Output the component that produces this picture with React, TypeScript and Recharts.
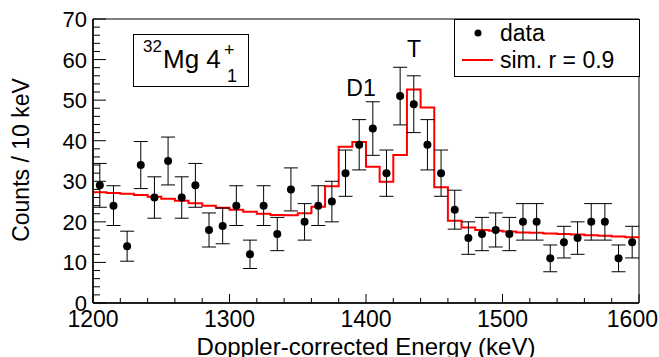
import React from "react";
import { ComposedChart, Line, Scatter, ErrorBar, XAxis, YAxis, ReferenceArea, Legend } from "recharts";

const FONT = "'Liberation Sans', Arial, Helvetica, sans-serif";

// data: counts per 10 keV bin (bin centres)
const binCenters = [
  1205, 1215, 1225, 1235, 1245, 1255, 1265, 1275, 1285, 1295,
  1305, 1315, 1325, 1335, 1345, 1355, 1365, 1375, 1385, 1395,
  1405, 1415, 1425, 1435, 1445, 1455, 1465, 1475, 1485, 1495,
  1505, 1515, 1525, 1535, 1545, 1555, 1565, 1575, 1585, 1595,
];
const counts = [
  29, 24, 14, 34, 26, 35, 26, 29, 18, 19,
  24, 12, 24, 17, 28, 20, 24, 25, 32, 39,
  43, 32, 51, 49, 39, 32, 23, 16, 17, 18,
  17, 20, 20, 11, 15, 16, 20, 20, 11, 15,
];
const countErrors = [
  5.4, 4.9, 3.7, 5.8, 5.1, 5.9, 5.1, 5.4, 4.2, 4.4,
  4.9, 3.5, 4.9, 4.1, 5.3, 4.5, 4.9, 5.0, 5.7, 6.2,
  6.6, 5.7, 7.1, 7.0, 6.2, 5.7, 4.8, 4.0, 4.1, 4.2,
  4.1, 4.5, 4.5, 3.3, 3.9, 4.0, 4.5, 4.5, 3.3, 3.9,
];

// simulation histogram (value from each lower bin edge, last edge closes it)
const simEdges = [
  1200, 1210, 1220, 1230, 1240, 1250, 1260, 1270, 1280, 1290,
  1300, 1310, 1320, 1330, 1340, 1350, 1360, 1370, 1380, 1390,
  1400, 1410, 1420, 1430, 1440, 1450, 1460, 1470, 1480, 1490,
  1500, 1510, 1520, 1530, 1540, 1550, 1560, 1570, 1580, 1590, 1600,
];
const simCounts = [
  27.3, 27.1, 26.9, 26.6, 26.2, 25.7, 25.2, 24.6, 24.0, 23.5,
  23.0, 22.5, 22.0, 21.7, 21.6, 22.1, 23.7, 28.8, 38.5, 39.7,
  33.6, 29.9, 36.5, 52.6, 48.2, 28.5, 20.3, 18.6, 18.0, 17.8,
  17.6, 17.4, 17.3, 17.1, 17.0, 16.9, 16.7, 16.6, 16.4, 16.2, 16.2,
];

const xTicks = [
  1200, 1220, 1240, 1260, 1280, 1300, 1320, 1340, 1360, 1380, 1400,
  1420, 1440, 1460, 1480, 1500, 1520, 1540, 1560, 1580, 1600,
];
const xLabels = [1200, 1300, 1400, 1500, 1600];
const yTicks = [
  0, 2, 4, 6, 8, 10, 12, 14, 16, 18, 20, 22, 24, 26, 28, 30, 32, 34, 36,
  38, 40, 42, 44, 46, 48, 50, 52, 54, 56, 58, 60, 62, 64, 66, 68, 70,
];
const yLabels = [0, 10, 20, 30, 40, 50, 60, 70];

const points = binCenters.map((x, i) => ({ x, y: counts[i], err: countErrors[i] }));
const simData = simEdges.map((x, i) => ({ x, sim: simCounts[i] }));

function XTick(props: any) {
  const { x, y, payload } = props;
  const major = xLabels.includes(payload.value);
  const last = payload.value === xLabels[xLabels.length - 1];
  return (
    <g>
      <line x1={x} x2={x} y1={y} y2={y - (major ? 9 : 5)} stroke="#000" strokeWidth={1} />
      {major && (
        <text
          x={last ? x + 19 : x}
          y={y + 24}
          textAnchor={last ? "end" : "middle"}
          fontSize={23}
          fontFamily={FONT}
          fill="#000"
        >
          {payload.value}
        </text>
      )}
    </g>
  );
}

function YTick(props: any) {
  const { x, y, payload } = props;
  const major = yLabels.includes(payload.value);
  return (
    <g>
      <line x1={x} x2={x + (major ? 13 : 7)} y1={y} y2={y} stroke="#000" strokeWidth={1} />
      {major && (
        <text x={x - 6} y={y + 8} textAnchor="end" fontSize={22} fontFamily={FONT} fill="#000">
          {payload.value}
        </text>
      )}
    </g>
  );
}

function LegendBox() {
  return (
    <svg width={186} height={58} style={{ display: "block" }}>
      <rect x={0.5} y={0.5} width={185} height={57} fill="#fff" stroke="#000" strokeWidth={1} />
      <circle cx={24} cy={14} r={3.5} fill="#000" />
      <text x={46} y={22} fontSize={23} fontFamily={FONT} fill="#000">data</text>
      <line x1={8} x2={39} y1={41} y2={41} stroke="#ff0000" strokeWidth={2} />
      <text x={46} y={49} fontSize={23} fontFamily={FONT} fill="#000">sim. r = 0.9</text>
    </svg>
  );
}

export default function App() {
  return (
    <div style={{ position: "absolute", left: 0, top: 0, width: 659, height: 357, background: "#fff", overflow: "hidden" }}>
      <ComposedChart width={659} height={357} margin={{ top: 19, right: 20, bottom: 0, left: 0 }}>
        <XAxis
          dataKey="x"
          type="number"
          domain={[1200, 1600]}
          ticks={xTicks}
          interval={0}
          tick={<XTick />}
          tickLine={false}
          tickSize={0}
          tickMargin={0}
          height={54}
          axisLine={{ stroke: "#000", strokeWidth: 1.5 }}
          allowDataOverflow
        />
        <YAxis
          type="number"
          domain={[0, 70]}
          ticks={yTicks}
          interval={0}
          tick={<YTick />}
          tickLine={false}
          tickSize={0}
          tickMargin={0}
          width={93}
          axisLine={{ stroke: "#000", strokeWidth: 1.5 }}
          allowDataOverflow
        />
        <ReferenceArea x1={1200} x2={1600} y1={0} y2={70} fill="none" stroke="#000" strokeWidth={1} />
        <Line
          data={simData}
          dataKey="sim"
          type="stepAfter"
          stroke="#ff0000"
          strokeWidth={2}
          dot={false}
          isAnimationActive={false}
        />
        <Scatter
          data={points}
          dataKey="y"
          isAnimationActive={false}
          shape={(p: any) => <circle cx={p.cx} cy={p.cy} r={4} fill="#000" />}
        >
          <ErrorBar dataKey="err" direction="y" width={7} stroke="#000" strokeWidth={1} />
        </Scatter>
        <Legend
          layout="horizontal"
          verticalAlign="middle"
          align="center"
          content={<LegendBox />}
          wrapperStyle={{ position: "absolute", left: 454, top: 19, width: 186, height: 58 }}
        />
      </ComposedChart>
      <svg
        width={659}
        height={357}
        style={{ position: "absolute", left: 0, top: 0, pointerEvents: "none" }}
      >
        <text
          transform="translate(29,160) rotate(-90)"
          textAnchor="middle"
          fontSize={23}
          fontFamily={FONT}
          fill="#000"
        >
          Counts / 10 keV
        </text>
        <text x={366} y={355} textAnchor="middle" fontSize={24} fontFamily={FONT} fill="#000">
          Doppler-corrected Energy (keV)
        </text>
        <rect x={133.5} y={34.5} width={115} height={52} fill="#fff" stroke="#000" strokeWidth={1} />
        <text x={143} y={52} fontSize={17} fontFamily={FONT} fill="#000">32</text>
        <text x={163} y={68} fontSize={26} fontFamily={FONT} fill="#000">Mg 4</text>
        <text x={224} y={56} fontSize={18} fontFamily={FONT} fill="#000">+</text>
        <text x={227} y={82} fontSize={18} fontFamily={FONT} fill="#000">1</text>
        <text x={361} y={96} textAnchor="middle" fontSize={23} fontFamily={FONT} fill="#000">D1</text>
        <text x={414} y={57} textAnchor="middle" fontSize={23} fontFamily={FONT} fill="#000">T</text>
      </svg>
    </div>
  );
}
